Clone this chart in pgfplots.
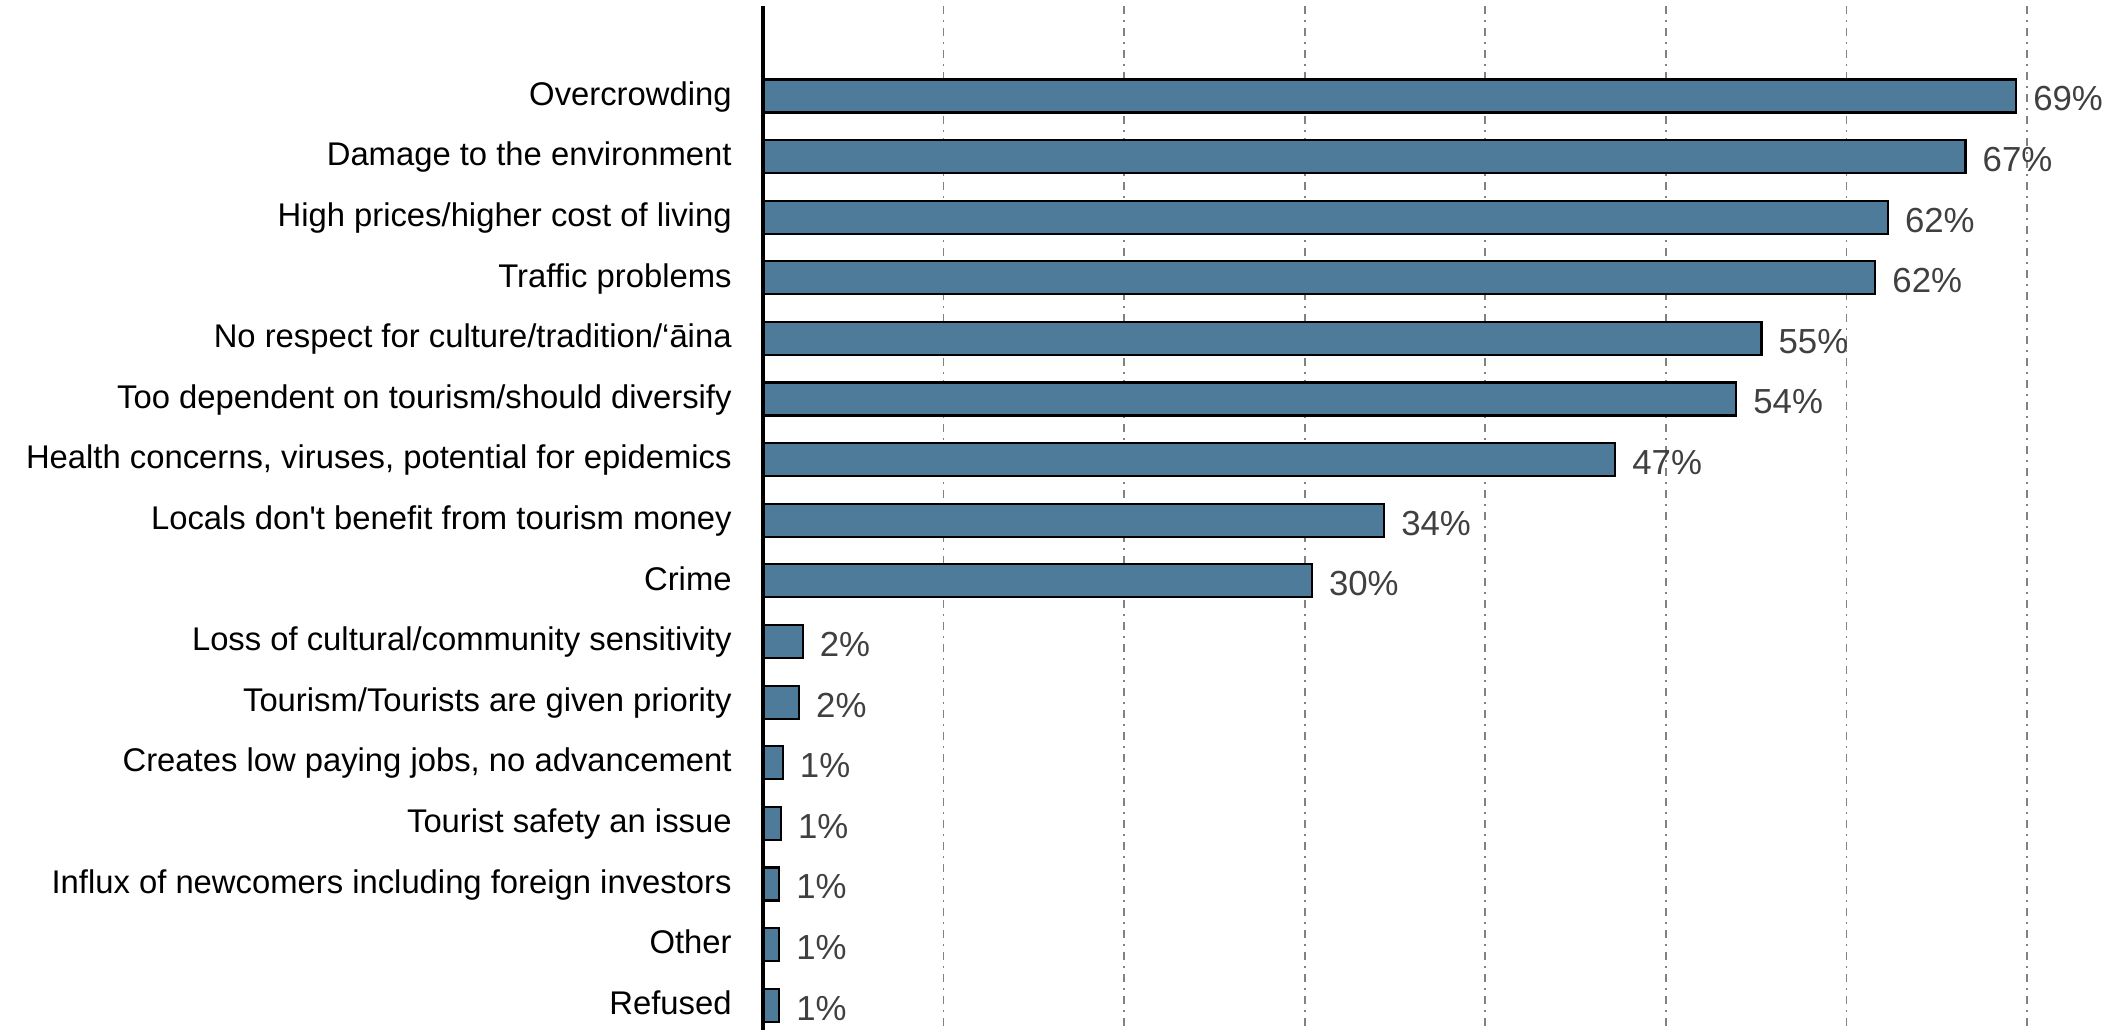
\documentclass[border=0pt]{standalone}
\usepackage{pgfplots}
\pgfplotsset{compat=1.18}
\usepackage{pgfplotstable}
\usepackage{fontspec}
\setmainfont{Liberation Sans}[Ligatures=TeXOff]
\definecolor{barblue}{RGB}{78,123,153}
\definecolor{gridgray}{RGB}{130,130,130}
\definecolor{valgray}{RGB}{64,64,64}

\pgfplotstableread[col sep=comma]{
y,v,lab
0,69.4,69
1,66.6,67
2,62.3,62
3,61.6,62
4,55.3,55
5,53.9,54
6,47.2,47
7,34.4,34
8,30.4,30
9,2.2,2
10,2.0,2
11,1.1,1
12,1.0,1
13,0.9,1
14,0.9,1
15,0.9,1
}\datatable

\begin{document}
\begin{tikzpicture}
\path[use as bounding box] (-381.5pt,0pt) rectangle (679pt,515pt);
\begin{axis}[
  at={(0,0)}, anchor=south west,
  width=632pt, height=512pt, scale only axis,
  xmin=0, xmax=70,
  ymin=-1.485, ymax=15.41,
  y dir=reverse,
  axis line style={draw=none},
  xtick={10,20,...,70}, xticklabels={},
  xmajorgrids,
  major grid style={gridgray, line width=0.9pt, dash pattern=on 4pt off 3pt on 1pt off 3pt},
  major tick length=0pt,
  ytick={0,...,15},
  yticklabels={Overcrowding, Damage to the environment, High prices/higher cost of living, Traffic problems, No respect for culture/tradition/‘āina, Too dependent on tourism/should diversify, {Health concerns, viruses, potential for epidemics}, Locals don't benefit from tourism money, Crime, Loss of cultural/community sensitivity, Tourism/Tourists are given priority, {Creates low paying jobs, no advancement}, Tourist safety an issue, Influx of newcomers including foreign investors, Other, Refused},
  yticklabel style={font=\fontsize{16.4}{20}\selectfont, inner sep=0pt, text height=0.73em, text depth=0.21em, xshift=-15.5pt, yshift=-2pt, anchor=east},
  xbar, bar width=16.5pt,
  point meta=explicit symbolic,
  nodes near coords={\pgfplotspointmeta\%},
  nodes near coords style={font=\fontsize{17.4}{20}\selectfont, text=valgray, anchor=west, inner sep=0pt, xshift=8pt, yshift=-1.5pt},
  clip=false,
]
\addplot[fill=barblue, draw=black, line width=1.1pt] table[x=v, y=y, meta=lab] {\datatable};
\end{axis}
\draw[line width=2.3pt] (0pt,0pt) -- (0pt,512pt);
\end{tikzpicture}
\end{document}
